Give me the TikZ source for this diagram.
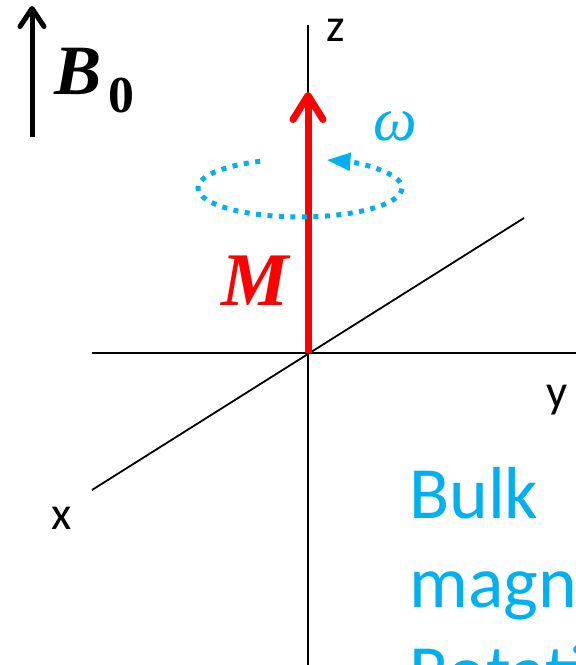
\documentclass[tikz,border=0pt]{standalone}
\usepackage{fontspec}
\setmainfont{Carlito}
\newfontfamily\vecfont{Liberation Serif}
\usetikzlibrary{arrows.meta}
\definecolor{skyblue}{HTML}{00B0F0}

\begin{document}
\begin{tikzpicture}[x=1bp,y=-1bp,
    axis/.style={line width=1.8bp},
    axislabel/.style={font=\fontsize{47}{56}\selectfont,anchor=base,inner sep=0pt},
    vecname/.style={font=\vecfont\bfseries\itshape\fontsize{71}{80}\selectfont,anchor=base west,inner sep=0pt},
    blurb/.style={font=\fontsize{74}{89}\selectfont,text=skyblue,anchor=base west,inner sep=0pt}]
    \useasboundingbox (0,0) rectangle (576,665);
    \clip (0,0) rectangle (576,665);

    % axes
    \coordinate (O) at (308,353);
    \coordinate (ztop) at (308,25);
    \coordinate (zbot) at (308,665);
    \coordinate (yleft) at (92,353);
    \coordinate (yright) at (576,353);
    \coordinate (xfar) at (92,490);
    \coordinate (xnear) at (524,218);
    \draw[axis] (zbot)--(ztop);
    \draw[axis] (yleft)--(yright);
    \draw[axis] (xfar)--(xnear);
    \node[axislabel] (zlab) at (336,42) {z};
    \node[axislabel] (ylab) at (557,407) {y};
    \node[axislabel] (xlab) at (62,529) {x};

    % static field
    \coordinate (Bbot) at (32,137);
    \coordinate (Btop) at (32,6);
    \draw[line width=5bp,-{Straight Barb[length=18bp,width=24bp,line width=5bp,line cap=round,line join=round]}] (Bbot)--(Btop);
    \node[vecname] (Blab) at (54,95) {B};
    \node[font=\vecfont\bfseries\fontsize{52}{60}\selectfont,anchor=base west,inner sep=0pt] (Bsub) at (108,113) {0};

    % magnetisation
    \coordinate (Mtip) at (308,92);
    \draw[red,line width=7bp,-{Straight Barb[length=24bp,width=30bp,line width=7bp,line cap=round,line join=round]}] (O)--(Mtip);
    \node[vecname,font=\vecfont\bfseries\itshape\fontsize{76}{80}\selectfont,text=red] (Mlab) at (221,305) {M};

    % precession
    \draw[skyblue,line width=5bp,dash pattern=on 5bp off 6.5bp,-{Triangle[length=24bp,width=17bp]}]
        (300,188) ++(247:102 and 29) arc[start angle=247,end angle=-75,x radius=102,y radius=29];
    \node[font=\vecfont\itshape\fontsize{62}{70}\selectfont,text=skyblue,anchor=base,inner sep=0pt] (wlab) at (395,140) {ω};

    \node[blurb] (b1) at (409,518) {Bulk};
    \node[blurb] (b2) at (409,607) {magnetization};
    \node[blurb] (b3) at (409,696) {Rotating};
\end{tikzpicture}
\end{document}
